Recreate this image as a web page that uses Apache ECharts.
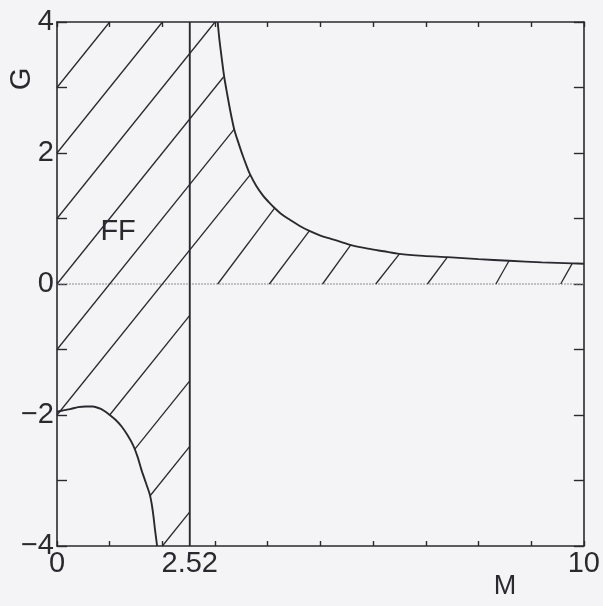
<!DOCTYPE html>
<html>
<head>
<meta charset="utf-8">
<script src="https://cdn.jsdelivr.net/npm/echarts@6/dist/echarts.min.js"></script>
<style>
  html, body { margin: 0; padding: 0; background: #f4f4f6; }
  #chart { width: 603px; height: 606px; }
</style>
</head>
<body>
<div id="chart"></div>
<script>
// Upper boundary of the FF region (M > 2.52, G > 0)
const upperM = [3.05, 3.08, 3.11, 3.15, 3.18, 3.23, 3.28, 3.33, 3.37, 3.45, 3.53, 3.6, 3.66, 3.78, 3.91,
                4.02, 4.13, 4.27, 4.42, 4.6, 4.79, 5.0, 5.2, 5.4, 5.6, 5.9, 6.2, 6.5, 6.95, 7.41, 8.0, 8.58, 9.2, 9.78, 10];
const upperG = [4.0, 3.75, 3.55, 3.3, 3.13, 2.9, 2.68, 2.48, 2.34, 2.14, 1.95, 1.8, 1.68, 1.5, 1.35,
                1.25, 1.16, 1.06, 0.98, 0.89, 0.81, 0.74, 0.69, 0.64, 0.59, 0.54, 0.5, 0.46, 0.43, 0.41, 0.38, 0.355, 0.33, 0.315, 0.31];

// Lower boundary near M = 0..1.9, G < -2
const lowerM = [0, 0.12, 0.25, 0.4, 0.55, 0.68, 0.81, 0.9, 1.0, 1.12, 1.23, 1.34, 1.45, 1.53, 1.6, 1.68, 1.76, 1.8, 1.83, 1.86, 1.9];
const lowerG = [-1.95, -1.93, -1.91, -1.88, -1.87, -1.87, -1.9, -1.94, -2.0, -2.08, -2.18, -2.31, -2.47, -2.64, -2.83, -3.02, -3.21, -3.37, -3.54, -3.75, -4.0];

// Critical value of M
const mCrit = 2.52;

// Hatching strokes: start and end points (M, G)
const hatchFrom = [
  [0, 3], [0, 2], [0, 1], [0, 0], [0, -1], [0, -2],
  [1.0, -2.0], [1.47, -2.53], [1.76, -3.24], [2.0, -4.0],
  [3.05, 0], [4.03, 0], [5.04, 0], [6.05, 0], [7.03, 0], [8.33, 0], [9.56, 0]
];
const hatchTo = [
  [1, 4], [2, 4], [3.0, 4.0], [3.16, 3.16], [3.36, 2.36], [3.67, 1.67],
  [2.52, -0.48], [2.52, -1.48], [2.52, -2.48], [2.52, -3.48],
  [4.13, 1.16], [4.79, 0.81], [5.58, 0.6], [6.5, 0.46], [7.41, 0.41], [8.58, 0.355], [9.78, 0.315]
];

// Axis ranges and labelled ticks
const xRange = [0, 10];
const yRange = [-4, 4];
const xTickLabels = [0, 2.52, 10];
const yTickLabels = [-4, -2, 0, 2, 4];

const ink = '#2a292f';
const font = "'Liberation Sans', Arial, Helvetica, sans-serif";

const zip = (a, b) => a.map((v, i) => [v, b[i]]);

const chart = echarts.init(document.getElementById('chart'), null, { renderer: 'canvas' });

const frameAxis = {
  type: 'value',
  interval: 1,
  axisLine: { show: true, onZero: false, lineStyle: { color: ink, width: 1.6 } },
  splitLine: { show: false },
};

chart.setOption({
  backgroundColor: '#f4f4f6',
  animation: false,
  grid: { left: 57, right: 18, top: 22, bottom: 60 },
  xAxis: [
    Object.assign({}, frameAxis, {
      position: 'bottom', min: xRange[0], max: xRange[1],
      axisTick: { show: true, inside: true, length: 5, lineStyle: { color: ink, width: 1.4 } },
      axisLabel: {
        show: true, customValues: xTickLabels, margin: 3,
        fontSize: 29, fontFamily: font, color: ink,
        formatter: v => String(v)
      }
    }),
    Object.assign({}, frameAxis, {
      position: 'top', min: xRange[0], max: xRange[1],
      axisTick: { show: true, inside: true, length: 5, lineStyle: { color: ink, width: 1.4 } },
      axisLabel: { show: false }
    })
  ],
  yAxis: [
    Object.assign({}, frameAxis, {
      position: 'left', min: yRange[0], max: yRange[1],
      axisTick: { show: true, inside: true, length: 10, lineStyle: { color: ink, width: 1.4 } },
      axisLabel: {
        show: true, customValues: yTickLabels, margin: 3,
        fontSize: 29, fontFamily: font, color: ink,
        formatter: v => (v < 0 ? '\u2212' + Math.abs(v) : String(v))
      }
    }),
    Object.assign({}, frameAxis, {
      position: 'right', min: yRange[0], max: yRange[1],
      axisTick: { show: true, inside: true, length: 10, lineStyle: { color: ink, width: 1.4 } },
      axisLabel: { show: false }
    })
  ],
  series: [
    {
      name: 'G = 0',
      type: 'line',
      data: [[xRange[0], 0], [xRange[1], 0]],
      showSymbol: false,
      lineStyle: { color: '#8a8a92', width: 1, type: [2, 1] },
      z: 1
    },
    {
      name: 'hatch',
      type: 'lines',
      coordinateSystem: 'cartesian2d',
      data: hatchFrom.map((p, i) => ({ coords: [p, hatchTo[i]] })),
      lineStyle: { color: ink, width: 1.3, opacity: 1 },
      z: 2
    },
    {
      name: 'upper boundary',
      type: 'line',
      data: zip(upperM, upperG),
      smooth: 0.3,
      showSymbol: false,
      lineStyle: { color: ink, width: 1.9 },
      z: 3
    },
    {
      name: 'lower boundary',
      type: 'line',
      data: zip(lowerM, lowerG),
      smooth: 0.3,
      showSymbol: false,
      lineStyle: { color: ink, width: 1.9 },
      z: 3
    },
    {
      name: 'M = 2.52',
      type: 'line',
      data: [[mCrit, yRange[0]], [mCrit, yRange[1]]],
      showSymbol: false,
      lineStyle: { color: ink, width: 1.9 },
      z: 3
    },
    {
      name: 'FF label',
      type: 'scatter',
      data: [[1.16, 0.8]],
      symbolSize: 0,
      itemStyle: { opacity: 1, color: ink },
      label: {
        show: true, position: 'inside', formatter: 'FF', opacity: 1,
        fontSize: 29, fontFamily: font, color: ink, textBorderWidth: 0
      },
      z: 4
    }
  ],
  graphic: [
    {
      type: 'text', x: 22, y: 79, rotation: Math.PI / 2,
      style: { text: 'G', fontSize: 29, fontFamily: font, fill: ink, align: 'center', verticalAlign: 'middle' }
    },
    {
      type: 'text', x: 505, y: 587,
      style: { text: 'M', fontSize: 27, fontFamily: font, fill: ink, align: 'center', verticalAlign: 'middle' }
    }
  ]
});
</script>
</body>
</html>
